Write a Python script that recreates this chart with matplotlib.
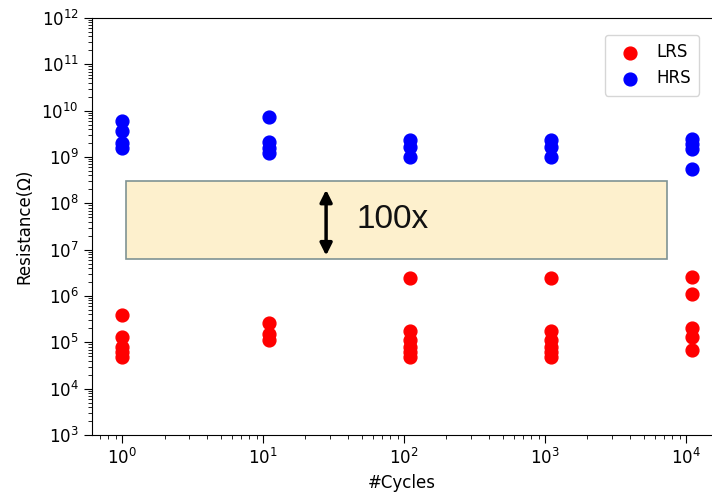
import matplotlib
matplotlib.use("Agg")
import matplotlib.pyplot as plt
from matplotlib.patches import Rectangle
from matplotlib.ticker import LogLocator, NullFormatter

# Data
cycles = [1, 11, 110, 1100, 11000]
hrs = [
    [6.0e9, 3.6e9, 2.0e9, 1.6e9],
    [7.2e9, 2.1e9, 1.6e9, 1.2e9],
    [2.3e9, 1.66e9, 1.0e9],
    [2.3e9, 1.66e9, 1.0e9],
    [2.5e9, 1.95e9, 1.5e9, 5.4e8],
]
lrs = [
    [3.8e5, 1.3e5, 7.8e4, 6.1e4, 4.8e4],
    [2.6e5, 1.55e5, 1.1e5],
    [2.4e6, 1.74e5, 1.1e5, 7.8e4, 6.1e4, 4.8e4],
    [2.4e6, 1.74e5, 1.1e5, 7.8e4, 6.1e4, 4.8e4],
    [2.6e6, 1.1e6, 2.0e5, 1.3e5, 6.8e4],
]
window_x = [1.07, 7330]
window_y = [6.2e6, 3.0e8]
arrow_x = 28
window_label = "100x"

fig = plt.figure(figsize=(7.12, 4.94), dpi=100)
ax = fig.add_axes([92/712, 59/494, 620/712, 417/494])

for i, c in enumerate(cycles):
    ax.scatter([c]*len(lrs[i]), lrs[i], s=85, color='red', zorder=3,
               label='LRS' if i == 0 else None)
for i, c in enumerate(cycles):
    ax.scatter([c]*len(hrs[i]), hrs[i], s=85, color='blue', zorder=3,
               label='HRS' if i == 0 else None)

ax.set_xscale('log')
ax.set_yscale('log')
ax.set_xlim(0.612, 15290)
ax.set_ylim(1e3, 1e12)

ax.yaxis.set_major_locator(LogLocator(base=10, numticks=20))
ax.yaxis.set_minor_locator(LogLocator(base=10, subs=range(2, 10), numticks=20))
ax.yaxis.set_minor_formatter(NullFormatter())
ax.xaxis.set_major_locator(LogLocator(base=10, numticks=20))
ax.xaxis.set_minor_locator(LogLocator(base=10, subs=range(2, 10), numticks=20))
ax.xaxis.set_minor_formatter(NullFormatter())

rect = Rectangle((window_x[0], window_y[0]), window_x[1]-window_x[0],
                 window_y[1]-window_y[0], facecolor='#fdf0cd',
                 edgecolor='#7f9393', linewidth=1.2, zorder=1)
ax.add_patch(rect)
ax.annotate('', xy=(arrow_x, window_y[0]*1.05), xytext=(arrow_x, window_y[1]*0.75),
            arrowprops=dict(arrowstyle='<|-|>', color='black', lw=2.5,
                            mutation_scale=18), zorder=2)
ax.text(arrow_x*1.65, 4.5e7, window_label, fontsize=24, family='Liberation Sans',
        va='center', ha='left', color='#111111')

ax.tick_params(axis='both', which='major', labelsize=12, length=6)
ax.tick_params(axis='both', which='minor', length=3)
ax.set_xlabel('#Cycles', fontsize=12)
ax.set_ylabel('Resistance(Ω)', fontsize=12, labelpad=6)
ax.spines['right'].set_visible(False)

ax.legend(loc='upper right', fontsize=12, bbox_to_anchor=(0.993, 0.98),
          handletextpad=0.6, borderpad=0.5)

fig.savefig('out.png', dpi=100)
